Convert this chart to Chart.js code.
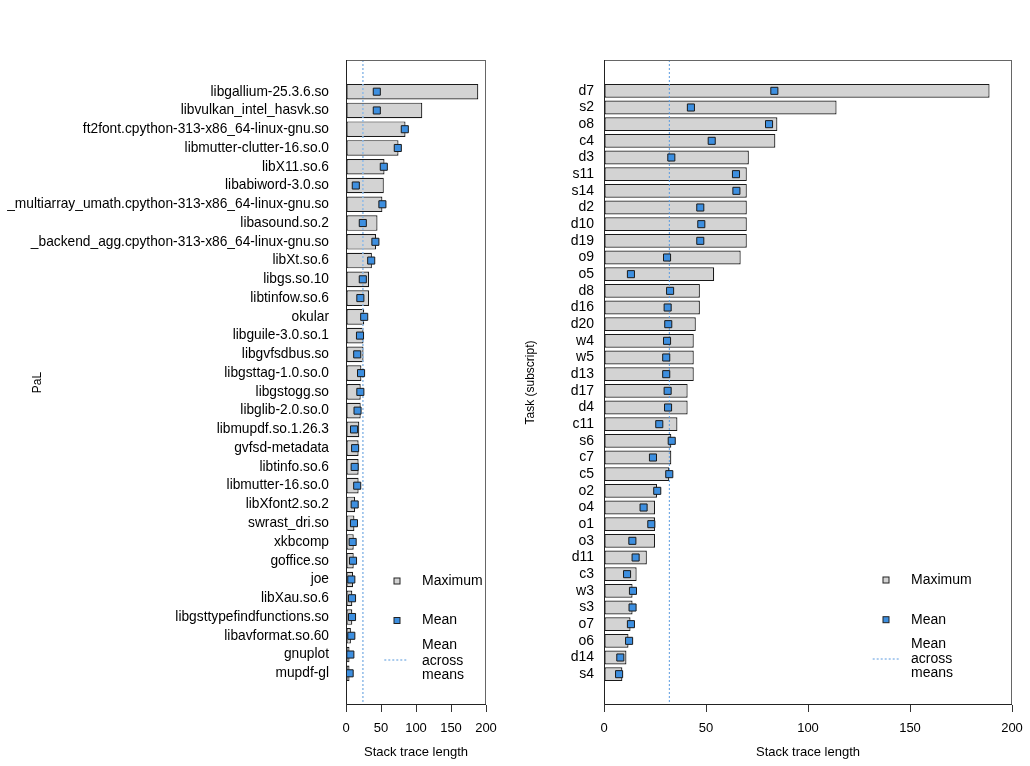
<!DOCTYPE html>
<html>
<head>
<meta charset="utf-8">
<script src="https://cdn.jsdelivr.net/npm/chart.js@4.4.1/dist/chart.umd.min.js"></script>
<style>
  html, body { margin: 0; padding: 0; background: #fff; }
  .panel { position: absolute; top: 0; }
  #pal-panel { left: 0; }
  #task-panel { left: 510px; }
</style>
</head>
<body>
<div class="panel" id="pal-panel"><canvas id="pal-chart" width="510" height="766"></canvas></div>
<div class="panel" id="task-panel"><canvas id="task-chart" width="520" height="766"></canvas></div>
<script>
// ---- DATA ----
const palLabels = [
  'libgallium-25.3.6.so', 'libvulkan_intel_hasvk.so', 'ft2font.cpython-313-x86_64-linux-gnu.so',
  'libmutter-clutter-16.so.0', 'libX11.so.6', 'libabiword-3.0.so',
  '_multiarray_umath.cpython-313-x86_64-linux-gnu.so', 'libasound.so.2',
  '_backend_agg.cpython-313-x86_64-linux-gnu.so', 'libXt.so.6', 'libgs.so.10', 'libtinfow.so.6',
  'okular', 'libguile-3.0.so.1', 'libgvfsdbus.so', 'libgsttag-1.0.so.0', 'libgstogg.so',
  'libglib-2.0.so.0', 'libmupdf.so.1.26.3', 'gvfsd-metadata', 'libtinfo.so.6', 'libmutter-16.so.0',
  'libXfont2.so.2', 'swrast_dri.so', 'xkbcomp', 'goffice.so', 'joe', 'libXau.so.6',
  'libgsttypefindfunctions.so', 'libavformat.so.60', 'gnuplot', 'mupdf-gl'
];
const palMax = [189, 109, 85, 75, 55, 54, 52, 45, 43, 37, 33, 33, 26, 25, 25, 22, 21, 21, 19, 18, 18, 18,
  13, 12, 11, 11, 10, 9, 9, 7, 5, 5];
const palMean = [44, 44, 84, 74, 54, 14, 52, 24, 42, 36, 24, 20.5, 26, 20, 16, 21.5, 20.5, 16.5, 11.5, 13,
  12.4, 16, 12.4, 11.4, 9.5, 10, 7.6, 8.6, 8.6, 7.6, 6.2, 5.2];

const taskLabels = [
  'd7', 's2', 'o8', 'c4', 'd3', 's11', 's14', 'd2', 'd10', 'd19', 'o9', 'o5', 'd8', 'd16', 'd20', 'w4',
  'w5', 'd13', 'd17', 'd4', 'c11', 's6', 'c7', 'c5', 'o2', 'o4', 'o1', 'o3', 'd11', 'c3', 'w3', 's3',
  'o7', 'o6', 'd14', 's4'
];
const taskMax = [189, 114, 85, 84, 71, 70, 70, 70, 70, 70, 67, 54, 47, 47, 45, 44, 44, 44, 41, 41, 36, 33,
  33, 32, 26, 25, 25, 25, 21, 16, 14, 14, 13, 12, 11, 9];
const taskMean = [83.5, 42.6, 80.9, 52.8, 33, 64.7, 64.9, 47.2, 47.7, 47.2, 30.9, 13.2, 32.4, 31.2, 31.5,
  30.9, 30.5, 30.5, 31.2, 31.4, 27.1, 33.2, 24, 32, 26.1, 19.4, 23.2, 13.9, 15.5, 11.3, 14.2, 14, 13.2,
  12.3, 8, 7.4];

const xTicks = [0, 50, 100, 150, 200];
const xTitle = 'Stack trace length';
const legendMax = 'Maximum';
const legendMean = 'Mean';
const legendAcross = ['Mean', 'across', 'means'];

const FONT = "'Liberation Sans', Arial, Helvetica, sans-serif";
const BLUE = '#3d8fe0';

Chart.defaults.font.family = FONT;
Chart.defaults.color = '#000';

const avg = (arr) => arr.reduce((s, v) => s + v, 0) / arr.length;

// frame, mean-across-means line and the in-plot legend
const framePlugin = {
  id: 'frame',
  beforeDatasetDraw(chart, args, o) {
    if (args.index !== 1) return;
    const { ctx, chartArea: a, scales: { x } } = chart;
    const px = x.getPixelForValue(o.meanAll);
    ctx.save();
    ctx.strokeStyle = o.lineColor;
    ctx.lineWidth = o.lineWidth;
    ctx.setLineDash(o.dash);
    ctx.beginPath();
    ctx.moveTo(px, a.top);
    ctx.lineTo(px, a.bottom);
    ctx.stroke();
    ctx.restore();
  },
  afterDraw(chart, args, o) {
    const { ctx, chartArea: a } = chart;
    const L = o.legend;
    const r = a.right, b = a.bottom;
    ctx.save();
    // box: top/right a bit lighter, like the original device
    ctx.lineWidth = 1;
    ctx.strokeStyle = '#666';
    ctx.strokeRect(a.left + 0.5, a.top + 0.5, a.right - a.left - 1, a.bottom - a.top - 1);
    ctx.strokeStyle = '#222';
    ctx.beginPath();
    ctx.moveTo(a.left + 0.5, a.top);
    ctx.lineTo(a.left + 0.5, a.bottom - 0.5);
    ctx.lineTo(a.right, a.bottom - 0.5);
    ctx.stroke();

    const sq = (cx, cy, s, fill) => {
      ctx.fillStyle = fill;
      ctx.fillRect(cx - s / 2, cy - s / 2, s, s);
      ctx.strokeStyle = '#222';
      ctx.strokeRect(cx - s / 2, cy - s / 2, s, s);
    };
    sq(r + L.icon, b + L.rowMax, 6, '#d3d3d3');
    sq(r + L.icon, b + L.rowMean, 6, BLUE);

    ctx.strokeStyle = o.lineColor;
    ctx.lineWidth = o.lineWidth;
    ctx.setLineDash(o.dash);
    ctx.beginPath();
    ctx.moveTo(r + L.lineFrom, b + L.lineY);
    ctx.lineTo(r + L.lineTo, b + L.lineY);
    ctx.stroke();
    ctx.setLineDash([]);

    ctx.fillStyle = '#000';
    ctx.font = '14px ' + FONT;
    ctx.textBaseline = 'middle';
    ctx.textAlign = 'left';
    ctx.fillText(legendMax, r + L.text, b + L.rowMax);
    ctx.fillText(legendMean, r + L.text, b + L.rowMean);
    legendAcross.forEach((t, i) => ctx.fillText(t, r + L.text, b + L.across[i]));
    ctx.restore();
  }
};

function makePanel(canvasId, labels, maxima, means, cfg) {
  return new Chart(document.getElementById(canvasId), {
    type: 'bar',
    data: {
      datasets: [
        {
          label: legendMax,
          order: 1,
          data: maxima.map((v, i) => ({ x: v, y: i })),
          backgroundColor: '#d3d3d3',
          borderColor: '#1a1a1a',
          borderWidth: 1.2,
          borderSkipped: false,
          categoryPercentage: 1,
          barPercentage: 0.833,
        },
        {
          type: 'scatter',
          label: legendMean,
          order: 0,
          data: means.map((v, i) => ({ x: v, y: i })),
          pointStyle: 'rect',
          pointRadius: 5,
          backgroundColor: BLUE,
          borderColor: '#1a1a1a',
          borderWidth: 1,
        },
      ],
    },
    options: {
      indexAxis: 'y',
      responsive: false,
      animation: false,
      events: [],
      layout: { padding: { top: 60, right: cfg.padRight, bottom: 0, left: 0 } },
      plugins: {
        legend: { display: false },
        tooltip: { enabled: false },
        frame: {
          meanAll: avg(means),
          lineColor: cfg.lineColor,
          lineWidth: cfg.lineWidth,
          dash: cfg.dash,
          legend: cfg.legend,
        },
      },
      scales: {
        x: {
          type: 'linear',
          min: 0,
          max: 200,
          afterBuildTicks: (s) => { s.ticks = xTicks.map(v => ({ value: v })); },
          afterFit: (s) => { s.height = 61; s.paddingLeft = 0; s.paddingRight = 0; },
          grid: { display: true, drawOnChartArea: false, drawTicks: true, tickLength: 7, color: '#333', tickColor: '#333' },
          border: { display: false },
          ticks: { padding: 9, maxRotation: 0, font: { size: 13 } },
          title: { display: true, text: xTitle, font: { size: 13 }, padding: { top: 0, bottom: 6 } },
        },
        y: {
          type: 'linear',
          reverse: true,
          offset: false,
          min: -cfg.pad,
          max: labels.length - 1 + cfg.pad,
          afterBuildTicks: (s) => { s.ticks = labels.map((_, i) => ({ value: i })); },
          afterFit: (s) => { s.width = cfg.axisWidth; },
          grid: { display: false, drawTicks: false, offset: false },
          border: { display: false },
          ticks: { autoSkip: false, padding: cfg.labelPad, font: { size: cfg.labelSize }, callback: (v) => labels[v] },
          title: { display: true, text: cfg.yTitle, font: { size: 12 }, padding: { top: cfg.titlePad, bottom: 0 } },
        },
      },
    },
    plugins: [framePlugin],
  });
}

makePanel('pal-chart', palLabels, palMax, palMean, {
  yTitle: 'PaL',
  axisWidth: 346,
  padRight: 24,
  pad: 1.69,
  labelPad: 17,
  labelSize: 13.75,
  titlePad: 30,
  lineColor: '#8fbbe8',
  lineWidth: 1.5,
  dash: [2, 2],
  legend: { icon: -89, text: -64, rowMax: -124, rowMean: -84.5, lineFrom: -101.7, lineTo: -79.3, lineY: -45, across: [-59.5, -44, -29.5] },
});

makePanel('task-chart', taskLabels, taskMax, taskMean, {
  yTitle: 'Task (subscript)',
  axisWidth: 94,
  padRight: 18,
  pad: 1.85,
  labelPad: 10,
  labelSize: 14,
  titlePad: 13,
  lineColor: '#5a9ae0',
  lineWidth: 1,
  dash: [2, 2],
  legend: { icon: -126, text: -101, rowMax: -125, rowMean: -85.3, lineFrom: -139.3, lineTo: -113, lineY: -46, across: [-61.3, -46, -31.7] },
});
</script>
</body>
</html>
